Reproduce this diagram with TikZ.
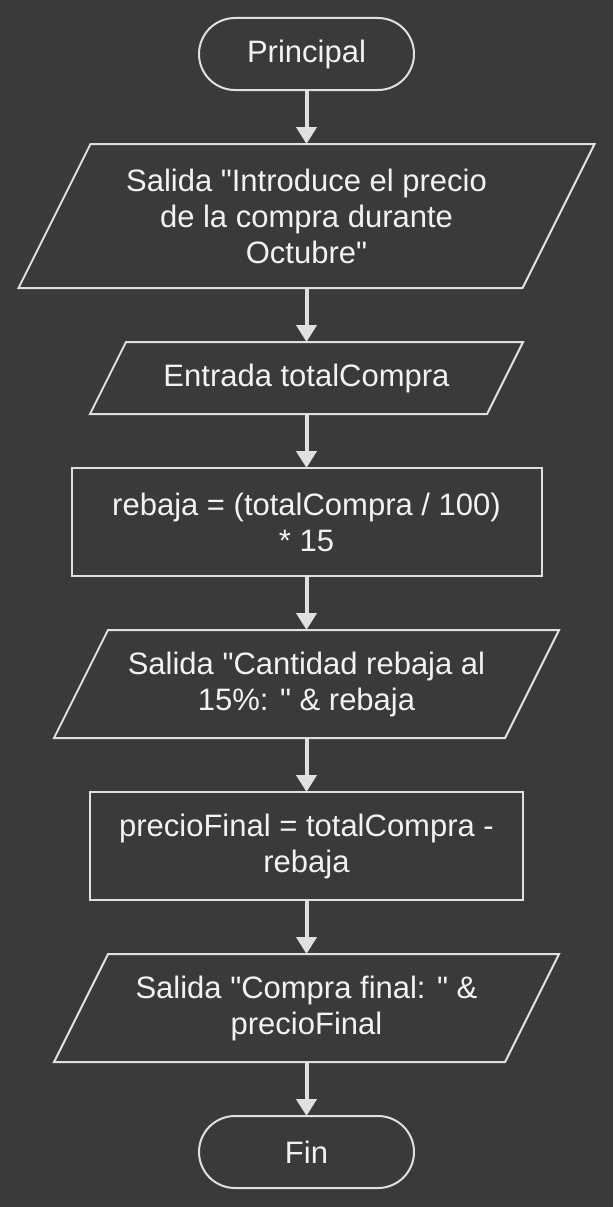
\documentclass[tikz,border=0pt]{standalone}
\usepackage{fontspec}
\setmainfont{Liberation Sans}
\usetikzlibrary{positioning}
\usetikzlibrary{arrows.meta}
\usepackage{xcolor}

\definecolor{fondo}{HTML}{3A3A3A}
\definecolor{linea}{HTML}{E0E0E0}
\definecolor{texto}{HTML}{F2F2F2}

% slanted outline round a plain node (input / output)
\newcommand{\inclinada}[2]{
    \draw[borde] ([xshift=#2]#1.north west) -- ([xshift=#2]#1.north east)
        -- ([xshift=-#2]#1.south east) -- ([xshift=-#2]#1.south west) -- cycle;
}
\newcommand{\q}{\textquotedbl}

\begin{document}
\begin{tikzpicture}[
    caja/.style = {minimum width=#1, inner sep=0pt, outer sep=0pt,
                align=center, text=texto, font=\fontsize{31}{36}\selectfont},
    borde/.style = {draw=linea, line width=2pt},
    proc/.style = {caja=#1, borde, minimum height=108pt},
    term/.style = {caja=215pt, borde, rounded corners=36pt, minimum height=72pt},
    es/.style = {caja=#1},  % outline is drawn with \inclinada
    flecha/.style = {draw=linea, line width=4pt,
                -{Triangle[width=20pt,length=17pt]}},
    node distance = 54pt
                    ]
    \def\cx{306.5pt}
    \fill[fondo] (0pt,0pt) rectangle (613pt,-1207pt);
    \node[term] at (\cx,-54pt) (ini) {Principal};
    \node[es=504pt, minimum height=144pt, below=of ini] (sal1)
        {Salida \q Introduce el precio\\de la compra durante\\Octubre\q};
    \node[es=397pt, minimum height=72pt, below=of sal1] (ent) {Entrada totalCompra};
    \node[proc=470pt, below=of ent] (reb) {rebaja = (totalCompra / 100)\\* 15};
    \node[es=451pt, minimum height=108pt, below=of reb] (sal2)
        {Salida \q Cantidad rebaja al\\15\%: \q\ \& rebaja};
    \node[proc=433pt, below=of sal2] (pf) {precioFinal = totalCompra -\\rebaja};
    \node[es=451pt, minimum height=108pt, below=of pf] (sal3)
        {Salida \q Compra final: \q\ \&\\precioFinal};
    \node[term, below=of sal3] (fin) {Fin};
    \inclinada{sal1}{36pt}
    \inclinada{ent}{18pt}
    \inclinada{sal2}{27pt}
    \inclinada{sal3}{27pt}
    \draw[flecha] (ini) -- (sal1);
    \draw[flecha] (sal1) -- (ent);
    \draw[flecha] (ent) -- (reb);
    \draw[flecha] (reb) -- (sal2);
    \draw[flecha] (sal2) -- (pf);
    \draw[flecha] (pf) -- (sal3);
    \draw[flecha] (sal3) -- (fin);
\end{tikzpicture}
\end{document}
